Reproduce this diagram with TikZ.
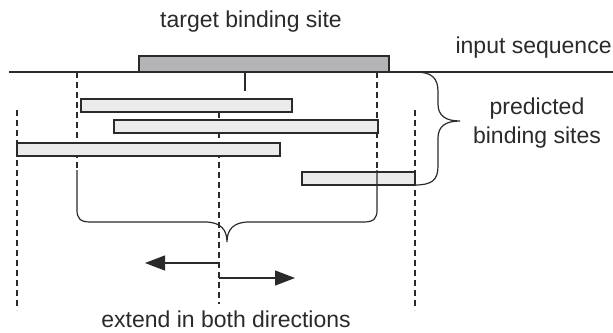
\documentclass[tikz,border=0pt]{standalone}
\usepackage{fontspec}
\setmainfont{Liberation Sans}
\usepackage{xcolor}
\definecolor{inkdark}{HTML}{2A2A2A}
\definecolor{sitegray}{HTML}{B4B4B6}
\definecolor{predgray}{HTML}{EBEBEC}
\usetikzlibrary{arrows.meta,positioning}

\tikzset{
  label/.style={font=\fontsize{11.5}{13.5}\selectfont, text=inkdark, inner sep=0pt},
  predbar/.style={draw=inkdark, line width=0.75pt, fill=predgray},
  guide/.style={draw=inkdark, line width=0.6pt, dash pattern=on 3pt off 2pt},
  curly/.style={draw=inkdark, line width=0.6pt},
  push/.style={draw=inkdark, line width=0.6pt, -{Triangle[length=10pt,width=7.5pt]}}
}

\begin{document}
\begin{tikzpicture}[x=0.5pt,y=-0.5pt]
  \useasboundingbox (0,0) rectangle (613,332);

  % labels
  \node[label] (target) at (251,22) {target binding site};
  \node[label, anchor=east] (input) at (612,48) {input sequence};
  \node[label, align=center] (pred) at (537,123) {predicted\\[1pt]binding sites};
  \node[label] (extend) at (226,319) {extend in both directions};

  % input sequence and target site
  \fill[sitegray, draw=inkdark, line width=0.75pt] (139,56) rectangle (389,72);
  \draw[inkdark, line width=0.65pt] (9,72) -- (613,72);
  \draw[inkdark, line width=0.6pt] (245,72) -- (245,91);

  % guides
  \draw[guide] (77,72) -- (77,170);
  \draw[guide] (377,72) -- (377,170);
  \draw[guide] (17,110) -- (17,310);
  \draw[guide] (415,110) -- (415,310);
  \draw[guide] (219,102) -- (219,304);

  % predicted sites
  \draw[predbar] (81,99) rectangle (292,112);
  \draw[predbar] (114,120) rectangle (378,133);
  \draw[predbar] (17,143) rectangle (280,156);
  \draw[predbar] (302,172) rectangle (415,185);

  % right brace
  \draw[curly] (415,72) .. controls (432,72) and (438,78) .. (438,92) -- (438,104)
    .. controls (438,116) and (446,121) .. (460,121)
    .. controls (446,121) and (438,126) .. (438,138) -- (438,166)
    .. controls (438,180) and (432,185) .. (415,185);

  % lower brace
  \draw[curly] (77,170) -- (77,210) .. controls (77,218) and (80,222) .. (90,222) -- (205,222)
    .. controls (221,222) and (227,230) .. (227,242)
    .. controls (227,230) and (233,222) .. (249,222) -- (364,222)
    .. controls (374,222) and (377,218) .. (377,210) -- (377,170);

  % extension arrows
  \coordinate (mid) at (219,263);
  \coordinate (low) at (219,278);
  \draw[push] (mid) -- (145,263);
  \draw[push] (low) -- (295,278);
\end{tikzpicture}
\end{document}
